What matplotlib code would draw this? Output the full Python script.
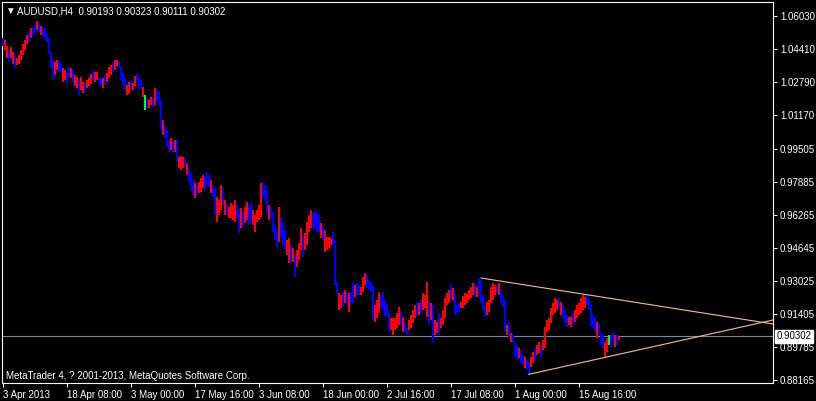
import numpy as np
import matplotlib
matplotlib.use("Agg")
import matplotlib.pyplot as plt
import matplotlib.transforms as mtransforms

# -------------------------------
# Chart data (AUDUSD H4; one entry per 2 bars)
# -------------------------------
symbol = "AUDUSD,H4"
last_ohlc = ["0.90193", "0.90323", "0.90111", "0.90302"]
bid = 0.90302

highs = [
    1.0495, 1.0485, 1.0456, 1.0436, 1.0451, 1.0426, 1.0411, 1.0397, 1.0411, 1.0436,
    1.0465, 1.0485, 1.0510, 1.0524, 1.0544, 1.0549, 1.0559, 1.0578, 1.0568, 1.0554,
    1.0549, 1.0544, 1.0519, 1.0495, 1.0426, 1.0387, 1.0377, 1.0387, 1.0382, 1.0372,
    1.0348, 1.0338, 1.0328, 1.0353, 1.0348, 1.0338, 1.0314, 1.0304, 1.0289, 1.0304,
    1.0279, 1.0274, 1.0289, 1.0299, 1.0318, 1.0338, 1.0328, 1.0328, 1.0304, 1.0299,
    1.0299, 1.0314, 1.0323, 1.0353, 1.0362, 1.0377, 1.0387, 1.0387, 1.0382, 1.0353,
    1.0328, 1.0299, 1.0265, 1.0279, 1.0289, 1.0274, 1.0309, 1.0323, 1.0304, 1.0289,
    1.0255, 1.0215, 1.0201, 1.0191, 1.0206, 1.0201, 1.0250, 1.0240, 1.0230, 1.0191,
    1.0093, 1.0068, 1.0043, 0.9994, 1.0004, 0.9984, 0.9994, 0.9994, 0.9911, 0.9916,
    0.9911, 0.9906, 0.9881, 0.9857, 0.9832, 0.9798, 0.9783, 0.9773, 0.9788, 0.9808,
    0.9823, 0.9818, 0.9837, 0.9823, 0.9798, 0.9773, 0.9759, 0.9714, 0.9700, 0.9773,
    0.9759, 0.9700, 0.9675, 0.9665, 0.9685, 0.9675, 0.9700, 0.9675, 0.9651, 0.9660,
    0.9641, 0.9665, 0.9690, 0.9675, 0.9685, 0.9651, 0.9626, 0.9651, 0.9675, 0.9783,
    0.9788, 0.9773, 0.9749, 0.9675, 0.9665, 0.9641, 0.9577, 0.9543, 0.9665, 0.9616,
    0.9592, 0.9552, 0.9503, 0.9513, 0.9479, 0.9464, 0.9430, 0.9454, 0.9489, 0.9562,
    0.9528, 0.9538, 0.9592, 0.9626, 0.9651, 0.9636, 0.9651, 0.9636, 0.9626, 0.9587,
    0.9577, 0.9552, 0.9518, 0.9518, 0.9513, 0.9543, 0.9503, 0.9297, 0.9243, 0.9233,
    0.9248, 0.9258, 0.9248, 0.9243, 0.9248, 0.9297, 0.9282, 0.9292, 0.9282, 0.9273,
    0.9322, 0.9341, 0.9331, 0.9307, 0.9297, 0.9282, 0.9184, 0.9209, 0.9248, 0.9233,
    0.9248, 0.9209, 0.9184, 0.9145, 0.9120, 0.9120, 0.9120, 0.9145, 0.9175, 0.9150,
    0.9126, 0.9101, 0.9071, 0.9111, 0.9135, 0.9160, 0.9184, 0.9199, 0.9194, 0.9209,
    0.9243, 0.9233, 0.9297, 0.9199, 0.9194, 0.9184, 0.9111, 0.9101, 0.9145, 0.9120,
    0.9160, 0.9219, 0.9243, 0.9258, 0.9292, 0.9268, 0.9243, 0.9184, 0.9194, 0.9199,
    0.9229, 0.9243, 0.9238, 0.9258, 0.9273, 0.9292, 0.9282, 0.9273, 0.9317, 0.9307,
    0.9233, 0.9175, 0.9199, 0.9209, 0.9273, 0.9292, 0.9282, 0.9282, 0.9292, 0.9258,
    0.9233, 0.9209, 0.9086, 0.9101, 0.9047, 0.9037, 0.9003, 0.8988, 0.8973, 0.8963,
    0.8939, 0.8929, 0.8914, 0.8904, 0.8929, 0.8953, 0.8973, 0.8988, 0.9003, 0.8988,
    0.9012, 0.9076, 0.9111, 0.9120, 0.9170, 0.9194, 0.9219, 0.9209, 0.9219, 0.9199,
    0.9184, 0.9160, 0.9135, 0.9126, 0.9126, 0.9145, 0.9160, 0.9184, 0.9194, 0.9219,
    0.9233, 0.9224, 0.9233, 0.9219, 0.9184, 0.9135, 0.9126, 0.9101, 0.9096, 0.9047,
    0.9037, 0.9003, 0.9022, 0.9037, 0.9037, 0.9052, 0.9037, 0.9037, 0.90323,
]

lows = [
    1.0456, 1.0436, 1.0397, 1.0377, 1.0397, 1.0367, 1.0348, 1.0362, 1.0367, 1.0387,
    1.0411, 1.0436, 1.0465, 1.0475, 1.0495, 1.0505, 1.0519, 1.0534, 1.0524, 1.0510,
    1.0505, 1.0495, 1.0475, 1.0421, 1.0348, 1.0289, 1.0314, 1.0338, 1.0323, 1.0328,
    1.0279, 1.0289, 1.0274, 1.0304, 1.0299, 1.0274, 1.0260, 1.0250, 1.0215, 1.0240,
    1.0225, 1.0230, 1.0250, 1.0260, 1.0269, 1.0289, 1.0279, 1.0289, 1.0265, 1.0265,
    1.0250, 1.0265, 1.0279, 1.0299, 1.0314, 1.0328, 1.0338, 1.0358, 1.0348, 1.0289,
    1.0265, 1.0240, 1.0215, 1.0220, 1.0240, 1.0240, 1.0260, 1.0279, 1.0240, 1.0250,
    1.0206, 1.0142, 1.0152, 1.0152, 1.0166, 1.0157, 1.0166, 1.0191, 1.0166, 1.0043,
    1.0019, 1.0004, 0.9960, 0.9935, 0.9945, 0.9935, 0.9935, 0.9886, 0.9857, 0.9847,
    0.9857, 0.9862, 0.9823, 0.9788, 0.9749, 0.9724, 0.9710, 0.9724, 0.9734, 0.9739,
    0.9759, 0.9749, 0.9773, 0.9764, 0.9734, 0.9710, 0.9626, 0.9592, 0.9626, 0.9651,
    0.9675, 0.9626, 0.9626, 0.9611, 0.9611, 0.9602, 0.9592, 0.9611, 0.9538, 0.9562,
    0.9572, 0.9587, 0.9602, 0.9577, 0.9592, 0.9577, 0.9543, 0.9592, 0.9602, 0.9616,
    0.9714, 0.9700, 0.9641, 0.9602, 0.9611, 0.9543, 0.9503, 0.9469, 0.9494, 0.9518,
    0.9479, 0.9454, 0.9430, 0.9390, 0.9395, 0.9395, 0.9321, 0.9370, 0.9405, 0.9454,
    0.9420, 0.9454, 0.9479, 0.9543, 0.9562, 0.9552, 0.9567, 0.9543, 0.9543, 0.9513,
    0.9503, 0.9444, 0.9454, 0.9464, 0.9479, 0.9479, 0.9282, 0.9233, 0.9160, 0.9170,
    0.9175, 0.9194, 0.9194, 0.9150, 0.9184, 0.9194, 0.9224, 0.9233, 0.9233, 0.9233,
    0.9248, 0.9282, 0.9273, 0.9258, 0.9248, 0.9111, 0.9101, 0.9120, 0.9145, 0.9170,
    0.9160, 0.9126, 0.9135, 0.9052, 0.9061, 0.9037, 0.9061, 0.9071, 0.9086, 0.9086,
    0.9052, 0.9047, 0.9037, 0.9061, 0.9071, 0.9096, 0.9120, 0.9130, 0.9135, 0.9145,
    0.9160, 0.9170, 0.9126, 0.9086, 0.9111, 0.8998, 0.9037, 0.9047, 0.9037, 0.9071,
    0.9086, 0.9120, 0.9184, 0.9194, 0.9219, 0.9209, 0.9135, 0.9145, 0.9150, 0.9170,
    0.9170, 0.9184, 0.9194, 0.9209, 0.9219, 0.9233, 0.9224, 0.9224, 0.9258, 0.9194,
    0.9160, 0.9126, 0.9135, 0.9150, 0.9194, 0.9209, 0.9233, 0.9243, 0.9233, 0.9194,
    0.9175, 0.9052, 0.9037, 0.9027, 0.9003, 0.8998, 0.8929, 0.8914, 0.8924, 0.8899,
    0.8890, 0.8875, 0.8865, 0.8840, 0.8880, 0.8899, 0.8914, 0.8939, 0.8948, 0.8924,
    0.8963, 0.8973, 0.9052, 0.9061, 0.9096, 0.9135, 0.9145, 0.9160, 0.9170, 0.9135,
    0.9120, 0.9096, 0.9076, 0.9086, 0.9076, 0.9086, 0.9101, 0.9120, 0.9135, 0.9145,
    0.9160, 0.9170, 0.9184, 0.9160, 0.9076, 0.9071, 0.9052, 0.9022, 0.9037, 0.8988,
    0.8973, 0.8929, 0.8953, 0.8988, 0.8973, 0.9003, 0.8978, 0.8988, 0.90111,
]

# r = bar up, b = bar down, g = doji
bar_colors = (
    "brrbrrbrrr" "rrrbrbbrbr" "bbbbbbrrbb" "rrbbrbrrbr" "rbrrrbrrbb"
    "rbrrrbrrbb" "bbrrbrrbbb" "rgbrrbrbbb" "rbbbrbrbrr" "rbrbbbrbrr"
    "rbbbrbbrrr" "brbrrrrbbr" "brrbbrrrrr" "bbbrbbbbrb" "bbrrbrbrrr"
    "brrrrbbbbr" "brrrrbbbrr" "brbrbbrbbr" "rrbbbbrrrb" "bbbbrrrrrb"
    "rbbrrrrbrb" "rrrbrbrrbr" "rrrrbrbbbr" "rrrrrrbrbb" "bbrrrrrbrb"
    "bbrbrbbbrb" "brbbrrbrrb" "rrrrrrrrbr" "bbbrrbrrrr" "rrbbbbbrbb"
    "brrgbbrbr"
)

price_ticks = [1.06030, 1.04410, 1.02790, 1.01170, 0.99505, 0.97885,
               0.96265, 0.94645, 0.93025, 0.91405, 0.89785, 0.88165]

date_ticks = [0, 64, 128, 192, 256, 320, 384, 448, 512, 576]  # H4 bar number
date_labels = ["3 Apr 2013", "18 Apr 08:00", "3 May 00:00", "17 May 16:00",
               "3 Jun 08:00", "18 Jun 00:00", "2 Jul 16:00", "17 Jul 08:00",
               "1 Aug 00:00", "15 Aug 16:00"]

# trend lines (bar number, price)
upper_x = [478, 770]
upper_y = [0.93165, 0.90907]
lower_x = [526, 770]
lower_y = [0.88437, 0.91103]

# -------------------------------
# Style
# -------------------------------
plt.rcParams['font.family'] = ['Liberation Sans', 'DejaVu Sans']
FS = 7
color_map = {"r": "#FF0000", "b": "#0000FF", "g": "#00FF00"}

W, H = 816, 401
fig = plt.figure(figsize=(W / 100, H / 100), dpi=100, facecolor="black")
ax = fig.add_axes([2 / W, 1 - 383 / H, 771 / W, 381 / H])
ax.set_facecolor("black")

x = np.arange(len(highs)) * 2
ax.vlines(x, lows, highs, colors=[color_map[c] for c in bar_colors],
          linewidth=1.44, antialiased=False, zorder=3)

ax.axhline(bid, color="#778899", lw=0.8, zorder=2)
ax.plot(upper_x, upper_y, color="#F0C090", lw=0.8, zorder=4)
ax.plot(lower_x, lower_y, color="#F0C090", lw=0.8, zorder=4)

ax.set_xlim(-1, 770)
ax.set_ylim(0.8801, 1.06717)

for s in ax.spines.values():
    s.set_color("white")
    s.set_linewidth(0.8)

ax.yaxis.tick_right()
ax.set_yticks(price_ticks)
ax.set_yticklabels(["%.5f" % p for p in price_ticks])
ax.tick_params(axis="y", colors="white", length=3, width=0.7, pad=2, labelsize=FS)

ax.set_xticks(date_ticks)
ax.set_xticklabels(date_labels)
ax.tick_params(axis="x", colors="white", length=3, width=0.7, pad=2, labelsize=FS)
for lbl in ax.get_xticklabels():
    lbl.set_ha("left")

# bid label on the price scale
trans = mtransforms.blended_transform_factory(ax.transAxes, ax.transData)
ax.text(1.005, bid, "%.5f" % bid, transform=trans, ha="left", va="center",
        color="black", fontsize=FS,
        bbox=dict(boxstyle="square,pad=0.15", fc="white", ec="white"))

# header and footer
fig.text(5.5 / W, 1 - 11 / H, "▼", color="white", fontsize=7, va="center")
fig.text(17 / W, 1 - 11 / H, symbol + "  " + " ".join(last_ohlc),
         color="white", fontsize=FS, va="center")
fig.text(6 / W, 1 - 376 / H, "MetaTrader 4, ? 2001-2013, MetaQuotes Software Corp.",
         color="white", fontsize=FS, va="center")

fig.savefig("out.png", dpi=100, facecolor="black")
